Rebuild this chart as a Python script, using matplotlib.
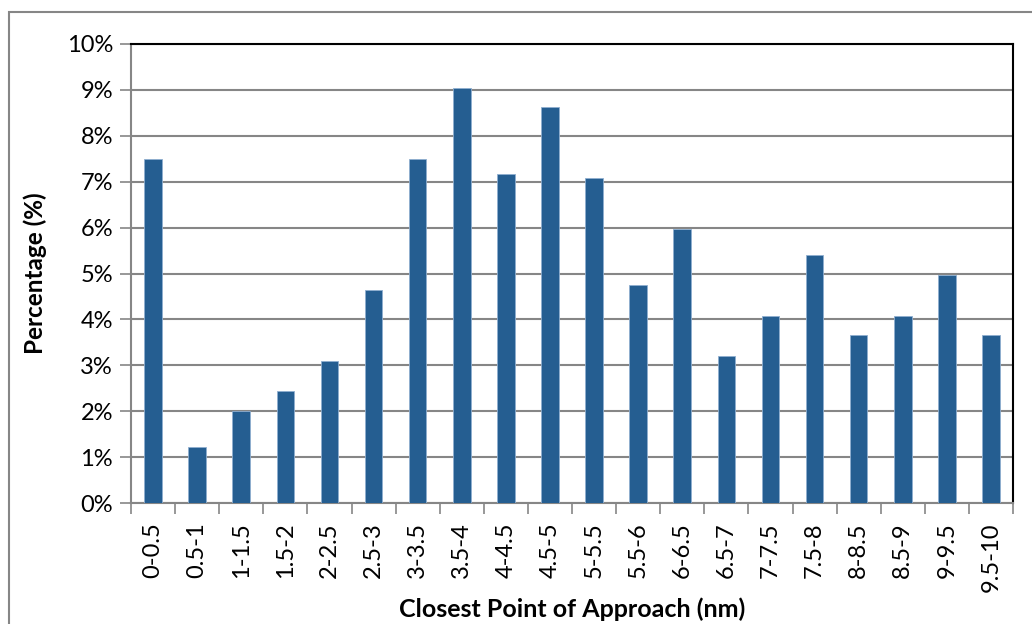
#!/usr/bin/env python3
"""Distribution of closest point of approach, as a column chart."""

import matplotlib
matplotlib.use("Agg")
import matplotlib.pyplot as plt
from matplotlib.patches import Rectangle

plt.rcParams["font.family"] = ["Lato", "DejaVu Sans"]

BAR_COLOR = "#255E91"
GRID_COLOR = "#868686"

categories = [
    "0-0.5", "0.5-1", "1-1.5", "1.5-2", "2-2.5", "2.5-3", "3-3.5", "3.5-4",
    "4-4.5", "4.5-5", "5-5.5", "5.5-6", "6-6.5", "6.5-7", "7-7.5", "7.5-8",
    "8-8.5", "8.5-9", "9-9.5", "9.5-10",
]
percentages = [
    7.5, 1.22, 2.0, 2.43, 3.1, 4.65, 7.5, 9.04,
    7.17, 8.62, 7.07, 4.75, 5.96, 3.21, 4.08, 5.41,
    3.65, 4.08, 4.97, 3.65,
]
y_ticks = list(range(0, 11))
y_tick_labels = [f"{v}%" for v in y_ticks]

fig = plt.figure(figsize=(10.32, 6.24), dpi=100)
ax = fig.add_axes([131 / 1032, 1 - 503 / 624, (1013 - 131) / 1032, (503 - 44) / 624])

x = list(range(len(categories)))
ax.bar(x, percentages, width=0.4, color=BAR_COLOR, edgecolor="#8FAFD0",
       linewidth=0.6, zorder=3)

ax.set_xlim(-0.5, len(categories) - 0.5)
ax.set_ylim(0, 10)
ax.set_yticks(y_ticks)
ax.set_yticklabels(y_tick_labels, fontsize=17)
ax.set_xticks(x)
ax.set_xticklabels(categories, rotation=90, fontsize=17)
ax.tick_params(axis="x", length=0, pad=14)
ax.set_xticks([i - 0.5 for i in range(len(categories) + 1)], minor=True)
ax.tick_params(axis="x", which="minor", length=8, color=GRID_COLOR, width=1.2)
ax.tick_params(axis="y", length=8, color=GRID_COLOR, width=1.2, pad=5)

ax.yaxis.grid(True, color=GRID_COLOR, linewidth=1.5, zorder=1)
ax.set_axisbelow(True)

ax.spines["left"].set_color(GRID_COLOR)
ax.spines["bottom"].set_color(GRID_COLOR)
ax.spines["left"].set_linewidth(1.5)
ax.spines["bottom"].set_linewidth(1.5)
ax.spines["top"].set_color("black")
ax.spines["right"].set_color("black")
ax.spines["top"].set_linewidth(1.5)
ax.spines["right"].set_linewidth(1.5)

ax.set_xlabel("Closest Point of Approach (nm)", fontsize=18, fontweight="bold",
              labelpad=4)
ax.set_ylabel("Percentage (%)", fontsize=17.5, fontweight="bold", labelpad=14)

# outer chart border (runs off the right and bottom edges)
fig.patches.append(Rectangle((9 / 1032, -0.05), 1.1, 1 - 12 / 624 + 0.05,
                             transform=fig.transFigure, fill=False,
                             edgecolor=GRID_COLOR, linewidth=1.5))

fig.savefig("out.png", dpi=100, facecolor="white")
